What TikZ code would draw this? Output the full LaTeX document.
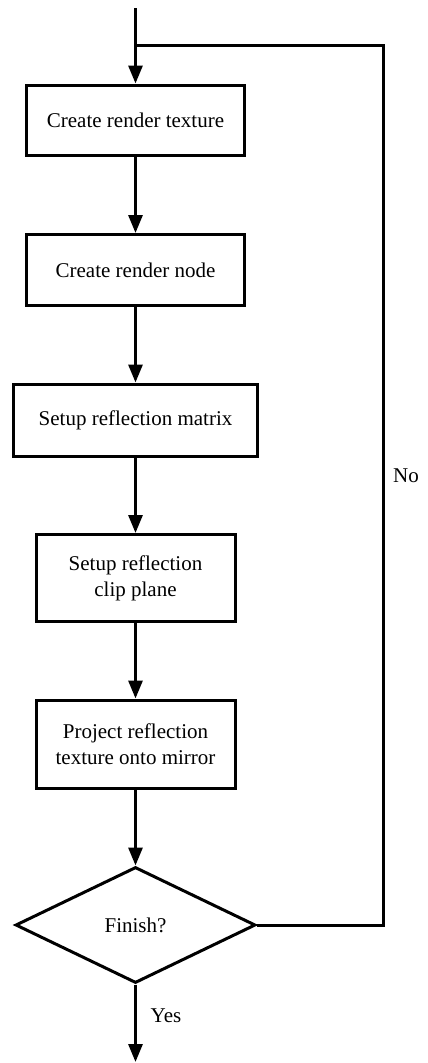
\documentclass[tikz,border=0pt]{standalone}
\usepackage{fontspec}
\setmainfont{Liberation Serif}
\usetikzlibrary{shapes.geometric,arrows.meta}
\begin{document}
\begin{tikzpicture}[x=1pt,y=-1pt,
  box/.style={draw,line width=3pt,rectangle,align=center,font=\fontsize{21}{26}\selectfont,inner sep=0pt},
  dec/.style={draw,line width=3pt,diamond,inner sep=0pt,font=\fontsize{21}{26}\selectfont,minimum width=240pt,minimum height=116pt},
  flow/.style={line width=3pt,-{Triangle[width=14pt,length=18pt]}},
  lbl/.style={font=\fontsize{21}{24}\selectfont}]
\useasboundingbox (0,0) rectangle (428,1063);
\coordinate (start) at (135.5,8);
\node[box,minimum width=218pt,minimum height=70pt] (b1) at (135.5,120) {Create render texture};
\node[box,minimum width=218pt,minimum height=71pt] (b2) at (135.5,270) {Create render node};
\node[box,minimum width=244pt,minimum height=72pt] (b3) at (135.5,420) {Setup reflection matrix};
\node[box,minimum width=199pt,minimum height=87pt] (b4) at (135.5,578) {Setup reflection\\clip plane};
\node[box,minimum width=199pt,minimum height=88pt] (b5) at (135.5,744) {Project reflection\\texture onto mirror};
\node[dec] (d) at (135.5,925) {Finish?};
\coordinate (end) at (135.5,1062);
\coordinate (rc) at (383,925);
\coordinate (rt) at (383,45);
\coordinate (join) at (135.5,45);
\draw[flow] (start) -- (b1.north);
\draw[flow] (b1) -- (b2);
\draw[flow] (b2) -- (b3);
\draw[flow] (b3) -- (b4);
\draw[flow] (b4) -- (b5);
\draw[flow] (b5) -- (d.north);
\draw[flow] (d.south) -- (end);
\draw[line width=3pt,line join=miter] (d.east) -- (rc) -- (rt) -- (join);
\node[lbl] (no) at (406,476) {No};
\node[lbl] (yes) at (166,1016) {Yes};
\end{tikzpicture}
\end{document}
